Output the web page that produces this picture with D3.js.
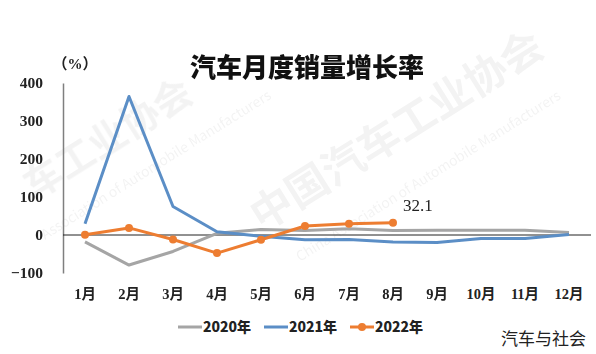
<!DOCTYPE html>
<html><head><meta charset="utf-8">
<script src="https://cdn.jsdelivr.net/npm/d3@7"></script>
<style>body{margin:0;background:#fff}svg{display:block}</style>
</head><body>
<svg id="c" width="596" height="354"></svg>
<script>
const months = ["1月","2月","3月","4月","5月","6月","7月","8月","9月","10月","11月","12月"];
const s2020 = [-18.0,-79.1,-43.3,4.4,14.5,11.6,16.4,11.6,12.8,12.5,12.6,6.4];
const s2021 = [29.5,364.6,74.9,8.6,-3.1,-12.4,-11.9,-18.1,-19.6,-9.4,-9.1,1.6];
const s2022 = [0.9,18.7,-11.7,-47.6,-12.6,23.8,29.7,32.1];
const yTicks = [400,300,200,100,0,-100];
const seriesNames = ["2020年","2021年","2022年"];
const colors = ["#a5a5a5","#5b8ec6","#ed7d31"];

const svg = d3.select("#c");
const serif = "'Liberation Serif','Noto Sans CJK SC',serif";
const cjk = "'Noto Sans CJK SC',sans-serif";

// watermark
const wm = svg.append("g").attr("fill","#000").attr("opacity",0.05).attr("font-family",cjk).attr("font-weight","bold");
wm.append("text").attr("transform","translate(34,200) rotate(-32)").attr("font-size",38).text("车工业协会");
wm.append("text").attr("transform","translate(262,232) rotate(-32)").attr("font-size",42).text("中国汽车工业协会");
wm.append("text").attr("transform","translate(45,240) rotate(-32)").attr("font-size",14).attr("font-weight","normal").text("Association of Automobile Manufacturers");
wm.append("text").attr("transform","translate(300,262) rotate(-32)").attr("font-size",14).attr("font-weight","normal").text("China Association of Automobile Manufacturers");

const x = d3.scaleBand().domain(months).range([63,591]);
const cx = m => x(m) + x.bandwidth()/2;
const y = d3.scaleLinear().domain([-100,400]).range([273,83]);

// title
svg.append("text").attr("x",307).attr("y",77).attr("text-anchor","middle")
  .attr("font-family",cjk).attr("font-weight","900").attr("font-size",26).attr("fill","#111").text("汽车月度销量增长率");

svg.append("text").attr("x",75).attr("y",69).attr("font-family",serif).attr("font-weight","bold").attr("font-size",15).attr("fill","#222").text("（%）").attr("text-anchor","middle");

// y axis
const yAxis = d3.axisLeft(y).tickValues(yTicks).tickSize(0).tickPadding(20);
const ya = svg.append("g").attr("transform","translate(63,0)").call(yAxis);
ya.select(".domain").attr("stroke","#7f7f7f").attr("stroke-width",1.5);
ya.selectAll("text").attr("font-family",serif).attr("font-weight","bold").attr("font-size",15.5).attr("fill","#222");

// zero line
svg.append("line").attr("x1",63).attr("x2",591).attr("y1",y(0)).attr("y2",y(0)).attr("stroke","#222").attr("stroke-width",1);

// x axis labels
const xAxis = d3.axisBottom(x).tickSize(0).tickPadding(0);
const xa = svg.append("g").attr("transform","translate(0,289)").call(xAxis);
xa.select(".domain").remove();
xa.selectAll("text").attr("font-family",serif).attr("font-weight","bold").attr("font-size",14.5).attr("fill","#222");

const line = d3.line().x(d=>cx(d[0])).y(d=>y(d[1]));
const data = [s2020,s2021,s2022].map(s => s.map((v,i)=>[months[i],v]));
data.forEach((d,i)=>{
  svg.append("path").datum(d).attr("d",line).attr("fill","none").attr("stroke",colors[i]).attr("stroke-width",3).attr("stroke-linejoin","round");
});
svg.append("g").selectAll("circle").data(data[2]).join("circle")
  .attr("cx",d=>cx(d[0])).attr("cy",d=>y(d[1])).attr("r",4).attr("fill",colors[2]);

// data label
const last = data[2][data[2].length-1];
svg.append("text").attr("x",cx(last[0])+10).attr("y",y(last[1])-12).attr("font-family",serif).attr("font-size",17).attr("fill","#222").text(last[1].toFixed(1));

// legend
const legX = [178,264,350];
seriesNames.forEach((n,i)=>{
  const g = svg.append("g").attr("transform",`translate(${legX[i]},327)`);
  g.append("line").attr("x1",0).attr("x2",24).attr("stroke",colors[i]).attr("stroke-width",3);
  if(i===2) g.append("circle").attr("cx",12).attr("r",4).attr("fill",colors[i]);
  g.append("text").attr("x",25).attr("y",5).attr("font-family",cjk).attr("font-weight","900").attr("font-size",14).attr("fill","#222").text(n);
});

svg.append("text").attr("x",586).attr("y",345).attr("text-anchor","end").attr("font-family",cjk).attr("font-size",17).attr("fill","#222").text("汽车与社会");
</script>
</body></html>
